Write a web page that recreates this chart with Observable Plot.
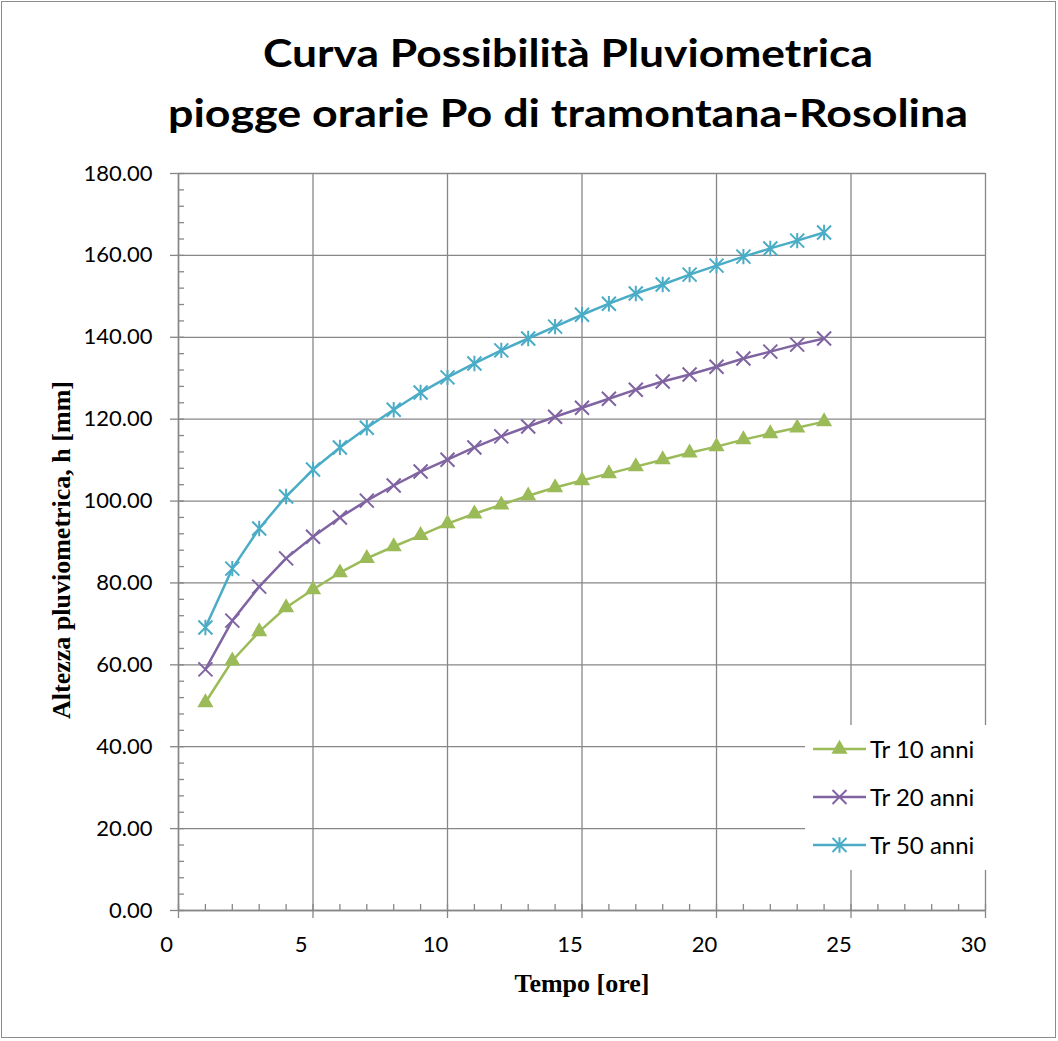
<!DOCTYPE html>
<html><head><meta charset="utf-8">
<script src="https://cdn.jsdelivr.net/npm/d3@7"></script>
<script src="https://cdn.jsdelivr.net/npm/@observablehq/plot@0.6"></script>
<style>
body{margin:0;background:#fff;}
#wrap{position:relative;width:1058px;height:1041px;overflow:hidden;background:#fff;}
#wrap > svg{position:absolute;left:0;top:0;}
#frame{position:absolute;left:1px;top:1px;width:1053px;height:1035px;border:1.5px solid #8c8c8c;pointer-events:none;}
#legend{position:absolute;left:805px;top:725px;width:185px;height:145px;background:#fff;font-family:Lato,"Open Sans",sans-serif;font-size:24px;color:#000;}
#legend .row{position:absolute;left:0;height:24px;width:185px;}
#legend .row svg{position:absolute;left:8px;top:2px;}
#legend .row span{position:absolute;left:65px;top:0;line-height:24px;white-space:nowrap;}
</style></head>
<body><div id="wrap"></div>
<script>
// ---- data ----
const hours = [1,2,3,4,5,6,7,8,9,10,11,12,13,14,15,16,17,18,19,20,21,22,23,24];
const tr10 = [50.8,61.0,68.1,74.0,78.4,82.5,86.0,88.9,91.6,94.5,96.9,99.1,101.3,103.3,105.0,106.7,108.4,110.1,111.8,113.3,115.0,116.5,117.9,119.4];
const tr20 = [58.9,70.8,79.1,86.0,91.3,96.0,100.1,103.8,107.2,110.1,113.1,115.8,118.2,120.6,122.8,125.0,127.2,129.2,130.9,132.8,134.8,136.5,138.2,139.7];
const tr50 = [69.1,83.5,93.3,101.1,107.7,113.1,117.9,122.3,126.5,130.2,133.6,136.8,139.7,142.6,145.5,148.2,150.7,152.9,155.3,157.5,159.7,161.7,163.6,165.6];
const seriesNames = ["Tr 10 anni","Tr 20 anni","Tr 50 anni"];
const xTicks = [0,5,10,15,20,25,30];
const yTicks = [0,20,40,60,80,100,120,140,160,180];
const xMinorTicks = d3.range(0,31,1);
const yMinorTicks = d3.range(0,181,4);
const titleLines = ["Curva Possibilità Pluviometrica","piogge orarie Po di tramontana-Rosolina"];
const xLabel = "Tempo [ore]";
const yLabel = "Altezza pluviometrica, h [mm]";

// ---- styles ----
const colors = ["#9BBB59","#8064A2","#4BACC6"];
const grid = "#878787";
const crossSym = {draw(ctx, size){const r=Math.sqrt(size/Math.PI); ctx.moveTo(-r,-r); ctx.lineTo(r,r); ctx.moveTo(-r,r); ctx.lineTo(r,-r);}};
const starSym = {draw(ctx, size){const r=Math.sqrt(size/Math.PI); ctx.moveTo(-r,-r); ctx.lineTo(r,r); ctx.moveTo(-r,r); ctx.lineTo(r,-r); ctx.moveTo(0,-r*1.1); ctx.lineTo(0,r*1.1);}};
const seriesDefs = [
  {name: seriesNames[0], values: tr10, color: colors[0], symbol: "triangle", filled: true, r: 6},
  {name: seriesNames[1], values: tr20, color: colors[1], symbol: crossSym, filled: false, r: 7},
  {name: seriesNames[2], values: tr50, color: colors[2], symbol: starSym, filled: false, r: 7}
];
const rows = seriesDefs.flatMap(s => hours.map((t,i) => ({serie: s.name, t, h: s.values[i]})));

const W = 1058, H = 1041;
const mL = 178, mR = 73, mT = 173, mB = 131;
const innerW = W - mL - mR, innerH = H - mT - mB;

const marks = [
  Plot.gridX(xTicks, {stroke: grid, strokeOpacity: 1, strokeWidth: 1.3}),
  Plot.gridY(yTicks, {stroke: grid, strokeOpacity: 1, strokeWidth: 1.3}),
  Plot.tickX(xMinorTicks, {stroke: grid, strokeWidth: 1.3, insetTop: innerH - 6}),
  Plot.tickX(xTicks, {stroke: grid, strokeWidth: 1.3, insetTop: innerH, insetBottom: -8}),
  Plot.tickY(yMinorTicks, {stroke: grid, strokeWidth: 1.3, insetRight: innerW - 6}),
  Plot.axisX(xTicks, {tickSize: 0, tickPadding: 26, dx: -12, fill: "#000", label: null, fontSize: 22}),
  Plot.axisY(yTicks, {tickSize: 8, tickPadding: 18, stroke: grid, strokeWidth: 1.3, fill: "#000", label: null, fontSize: 22, tickFormat: d => d.toFixed(2)}),
  Plot.ruleX([0], {stroke: grid, strokeWidth: 1.5}),
  Plot.ruleY([0], {stroke: grid, strokeWidth: 1.5})
];
for (const s of seriesDefs) {
  const data = rows.filter(d => d.serie === s.name);
  marks.push(Plot.line(data, {x: "t", y: "h", stroke: s.color, strokeWidth: 2.5}));
  marks.push(Plot.dot(data, {x: "t", y: "h", symbol: s.symbol, r: s.r,
    fill: s.filled ? s.color : "none", stroke: s.filled ? "none" : s.color, strokeWidth: 2}));
}

const chart = Plot.plot({
  width: W, height: H,
  marginLeft: mL, marginRight: mR, marginTop: mT, marginBottom: mB,
  x: {domain: [0, 30]},
  y: {domain: [0, 180]},
  style: {fontFamily: "Lato, 'Open Sans', sans-serif", fontSize: "22px", color: "#000", background: "transparent", overflow: "visible"},
  marks
});
const wrap = document.getElementById("wrap");
wrap.appendChild(chart);

// overlay texts
const ov = d3.select(wrap).append("svg").attr("width", W).attr("height", H).style("pointer-events","none");
const titleWidths = [610, 800];
const titleBaselines = [67, 127];
titleLines.forEach((t, i) => {
  ov.append("text").attr("x", 568).attr("y", titleBaselines[i]).attr("text-anchor","middle")
    .attr("font-family","Lato, 'Open Sans', sans-serif").attr("font-weight","bold").attr("font-size", 39)
    .attr("textLength", titleWidths[i]).attr("lengthAdjust","spacingAndGlyphs").attr("fill","#000").text(t);
});
ov.append("text").attr("x", 582).attr("y", 992).attr("text-anchor","middle")
  .attr("font-family","'Liberation Serif', 'Times New Roman', serif").attr("font-weight","bold").attr("font-size",26).text(xLabel);
ov.append("text").attr("transform","translate(70,550) rotate(-90)").attr("text-anchor","middle")
  .attr("font-family","'Liberation Serif', 'Times New Roman', serif").attr("font-weight","bold").attr("font-size",26).text(yLabel);

// legend
const legend = d3.select(wrap).append("div").attr("id","legend");
const rowCenters = [24, 72, 120];
seriesDefs.forEach((s, i) => {
  const row = legend.append("div").attr("class","row").style("top", (rowCenters[i]-12)+"px");
  const sv = row.append("svg").attr("width", 54).attr("height", 20);
  sv.append("line").attr("x1",0).attr("x2",53).attr("y1",10).attr("y2",10).attr("stroke",s.color).attr("stroke-width",2.5);
  const sym = typeof s.symbol === "string" ? d3.symbolTriangle : s.symbol;
  sv.append("path").attr("transform","translate(26.5,10)").attr("d", d3.symbol(sym, Math.PI*s.r*s.r)())
    .attr("fill", s.filled ? s.color : "none").attr("stroke", s.filled ? "none" : s.color).attr("stroke-width", 2);
  row.append("span").text(s.name);
});

d3.select(wrap).append("div").attr("id","frame");
</script>
</body></html>
